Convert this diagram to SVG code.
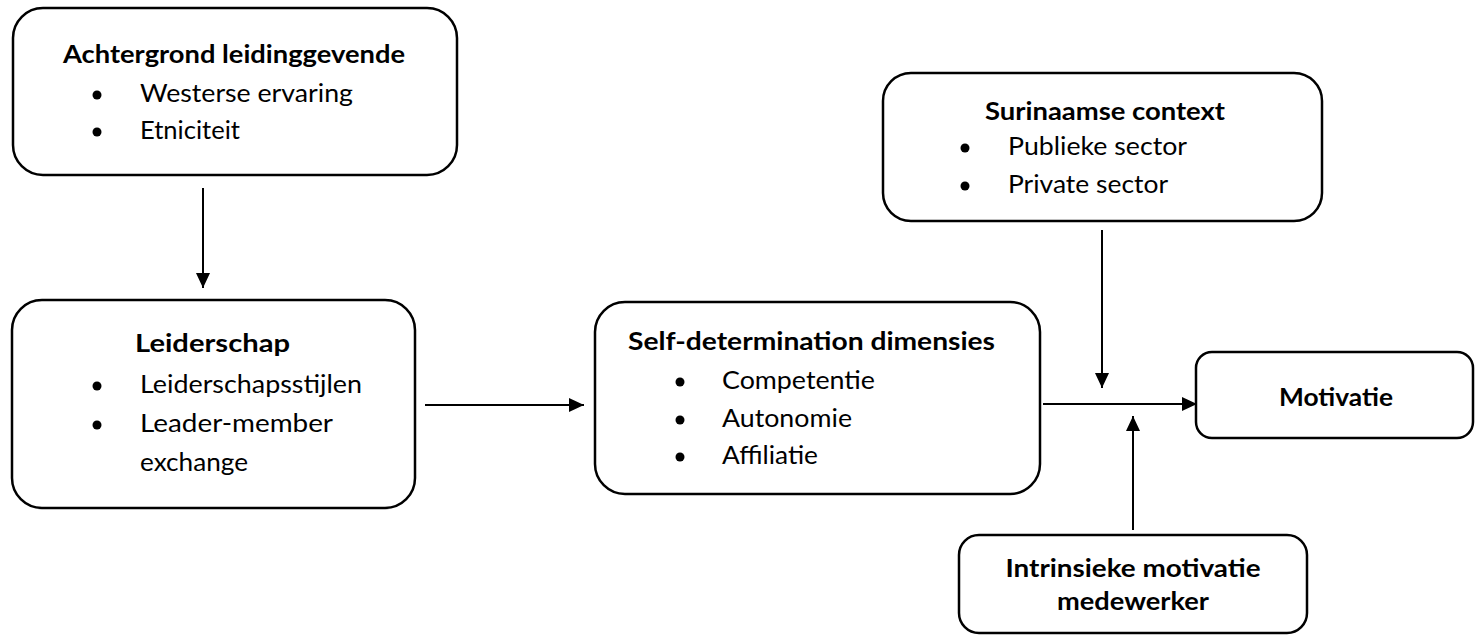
<svg xmlns="http://www.w3.org/2000/svg" width="1480" height="637" viewBox="0 0 1480 637">
<style>
.box{fill:#fff;stroke:#000;stroke-width:2.5}
.t{font-family:Lato,"Open Sans","Liberation Sans",sans-serif;font-size:25px;fill:#000}
.b{font-weight:bold}
.m{text-anchor:middle}
.dot{fill:#000}
.edge{stroke:#000;stroke-width:2;fill:none;marker-end:url(#ah)}
</style>
<defs>
<marker id="ah" markerUnits="userSpaceOnUse" markerWidth="16" markerHeight="16" viewBox="0 0 16 16" refX="15" refY="8" orient="auto">
<path d="M0,1 L15,8 L0,15 Z" fill="#000"/>
</marker>
</defs>
<rect width="1480" height="637" fill="#fff"/>
<g id="connectors">
<line class="edge" x1="203" y1="188" x2="203" y2="288"/>
<line class="edge" x1="425" y1="405" x2="584" y2="405"/>
<line class="edge" x1="1102" y1="230" x2="1102" y2="388"/>
<line class="edge" x1="1043" y1="404" x2="1197" y2="404"/>
<line class="edge" x1="1133" y1="530" x2="1133" y2="416"/>
</g>
<g id="achtergrond">
<rect class="box" x="13" y="8" width="444" height="167" rx="30"/>
<text class="t b" x="63" y="63" textLength="342" lengthAdjust="spacingAndGlyphs">Achtergrond leidinggevende</text>
<circle class="dot" cx="97" cy="95" r="4.5"/>
<text class="t" x="140" y="102" textLength="213" lengthAdjust="spacingAndGlyphs">Westerse ervaring</text>
<circle class="dot" cx="97" cy="132" r="4.5"/>
<text class="t" x="140" y="139" textLength="100" lengthAdjust="spacingAndGlyphs">Etniciteit</text>
</g>
<g id="leiderschap">
<rect class="box" x="12" y="300" width="403" height="208" rx="30"/>
<text class="t b" x="135" y="352" textLength="155" lengthAdjust="spacingAndGlyphs">Leiderschap</text>
<circle class="dot" cx="97" cy="386" r="4.5"/>
<text class="t" x="140" y="393" textLength="222" lengthAdjust="spacingAndGlyphs">Leiderschapsstijlen</text>
<circle class="dot" cx="97" cy="425" r="4.5"/>
<text class="t" x="140" y="432" textLength="193" lengthAdjust="spacingAndGlyphs">Leader-member</text>
<text class="t" x="140" y="471" textLength="108" lengthAdjust="spacingAndGlyphs">exchange</text>
</g>
<g id="selfdetermination">
<rect class="box" x="595" y="302" width="445" height="192" rx="30"/>
<text class="t b" x="628" y="350" textLength="367" lengthAdjust="spacingAndGlyphs">Self-determination dimensies</text>
<circle class="dot" cx="680" cy="382" r="4.5"/>
<text class="t" x="722" y="389" textLength="153" lengthAdjust="spacingAndGlyphs">Competentie</text>
<circle class="dot" cx="680" cy="420" r="4.5"/>
<text class="t" x="722" y="427" textLength="130" lengthAdjust="spacingAndGlyphs">Autonomie</text>
<circle class="dot" cx="680" cy="457" r="4.5"/>
<text class="t" x="722" y="464" textLength="96" lengthAdjust="spacingAndGlyphs">Affiliatie</text>
</g>
<g id="surinaamse">
<rect class="box" x="883" y="73" width="439" height="148" rx="28"/>
<text class="t b" x="985" y="120" textLength="240" lengthAdjust="spacingAndGlyphs">Surinaamse context</text>
<circle class="dot" cx="965" cy="148" r="4.5"/>
<text class="t" x="1008" y="155" textLength="179" lengthAdjust="spacingAndGlyphs">Publieke sector</text>
<circle class="dot" cx="965" cy="186" r="4.5"/>
<text class="t" x="1008" y="193" textLength="160" lengthAdjust="spacingAndGlyphs">Private sector</text>
</g>
<g id="motivatie">
<rect class="box" x="1196" y="352" width="277" height="86" rx="16"/>
<text class="t b" x="1279" y="406" textLength="114" lengthAdjust="spacingAndGlyphs">Motivatie</text>
</g>
<g id="intrinsieke">
<rect class="box" x="959" y="535" width="348" height="98" rx="20"/>
<text class="t b m" x="1133" y="577" textLength="255" lengthAdjust="spacingAndGlyphs">Intrinsieke motivatie</text>
<text class="t b m" x="1133" y="610" textLength="152" lengthAdjust="spacingAndGlyphs">medewerker</text>
</g>
</svg>
